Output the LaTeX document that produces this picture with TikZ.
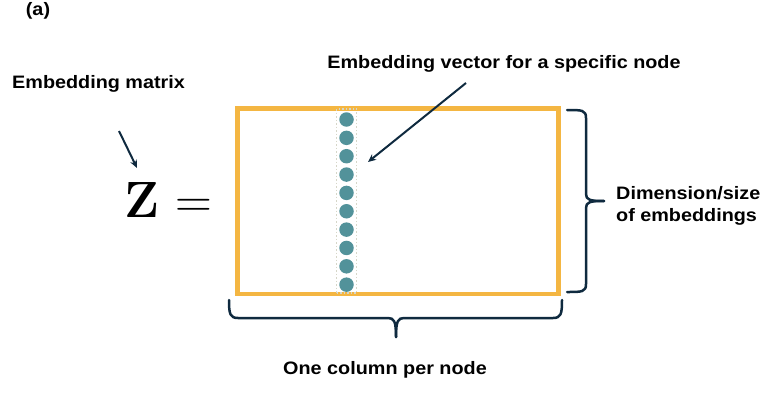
\documentclass[tikz,border=0pt]{standalone}
\usepackage[no-math]{fontspec}
\setmainfont{Liberation Sans}[FakeStretch=1.1]
\newfontfamily\lmfont{Latin Modern Roman}
\usetikzlibrary{arrows.meta}
\definecolor{mborder}{HTML}{F4B642}
\definecolor{dotc}{HTML}{52929A}
\definecolor{navy}{HTML}{0F2A3F}
\definecolor{dotbox}{HTML}{D6D6C8}
\tikzset{
  lbl/.style={font=\fontsize{18}{22}\selectfont\bfseries, inner sep=0pt, text=black},
  vecdot/.style={circle, fill=dotc, minimum size=14.5pt, inner sep=0pt},
  pointer/.style={navy, line width=2pt, -{Stealth[length=8pt,width=7pt]}},
  bracepath/.style={navy, line width=2.5pt, line cap=round, line join=round},
}
\begin{document}
\begin{tikzpicture}[x=1pt,y=-1pt]
\useasboundingbox (0,0) rectangle (784,404);
% labels
\node[lbl] (title) at (38,11) {(a)};
\node[lbl, anchor=west] (lblmat) at (12,84) {Embedding matrix};
\node[lbl] (lblvec) at (504,64) {Embedding vector for a specific node};
\node[lbl, anchor=west, align=left] (lbldim) at (616,206) {Dimension/size\\of embeddings};
\node[lbl] (lblcol) at (385,370) {One column per node};
% Z =
\node[inner sep=0pt, anchor=west] (zeq) at (124,200) {\fontsize{51}{56}\selectfont\lmfont{\bfseries Z}\hspace{16pt}=};
% matrix
\draw[mborder, line width=4.5pt] (237.5,108.5) rectangle (558.5,294);
\node[draw=dotbox, dotted, line width=1.5pt, minimum width=20pt, minimum height=184pt, inner sep=0pt] (col) at (346.5,201) {};
\foreach \i in {1,...,10} {
  \node[vecdot] (d\i) at (346.5,{119.5+(\i-1)*18.35}) {};
}
% arrows
\coordinate (m1) at (119,131);
\coordinate (m2) at (137,168);
\draw[pointer] (m1) -- (m2);
\coordinate (v1) at (466,83);
\coordinate (v2) at (368,162);
\draw[pointer] (v1) -- (v2);
% right brace
\coordinate (rb1) at (567,110);
\coordinate (rb2) at (567,292);
\coordinate (rbt) at (604,201);
\draw[bracepath] (rb1) .. controls (582,110) and (586,110) .. (586,118) -- (586,194) .. controls (586,200) and (590,201) .. (rbt);
\draw[bracepath] (rb2) .. controls (582,292) and (586,292) .. (586,284) -- (586,208) .. controls (586,202) and (590,201) .. (rbt);
% bottom brace
\coordinate (bb1) at (229,300);
\coordinate (bb2) at (562,300);
\coordinate (bbt) at (396,337);
\draw[bracepath] (bb1) .. controls (229,314) and (230,318) .. (238,318) -- (388,318) .. controls (394,318) and (396,321) .. (bbt);
\draw[bracepath] (bb2) .. controls (562,314) and (561,318) .. (553,318) -- (404,318) .. controls (398,318) and (396,321) .. (bbt);
\end{tikzpicture}
\end{document}
